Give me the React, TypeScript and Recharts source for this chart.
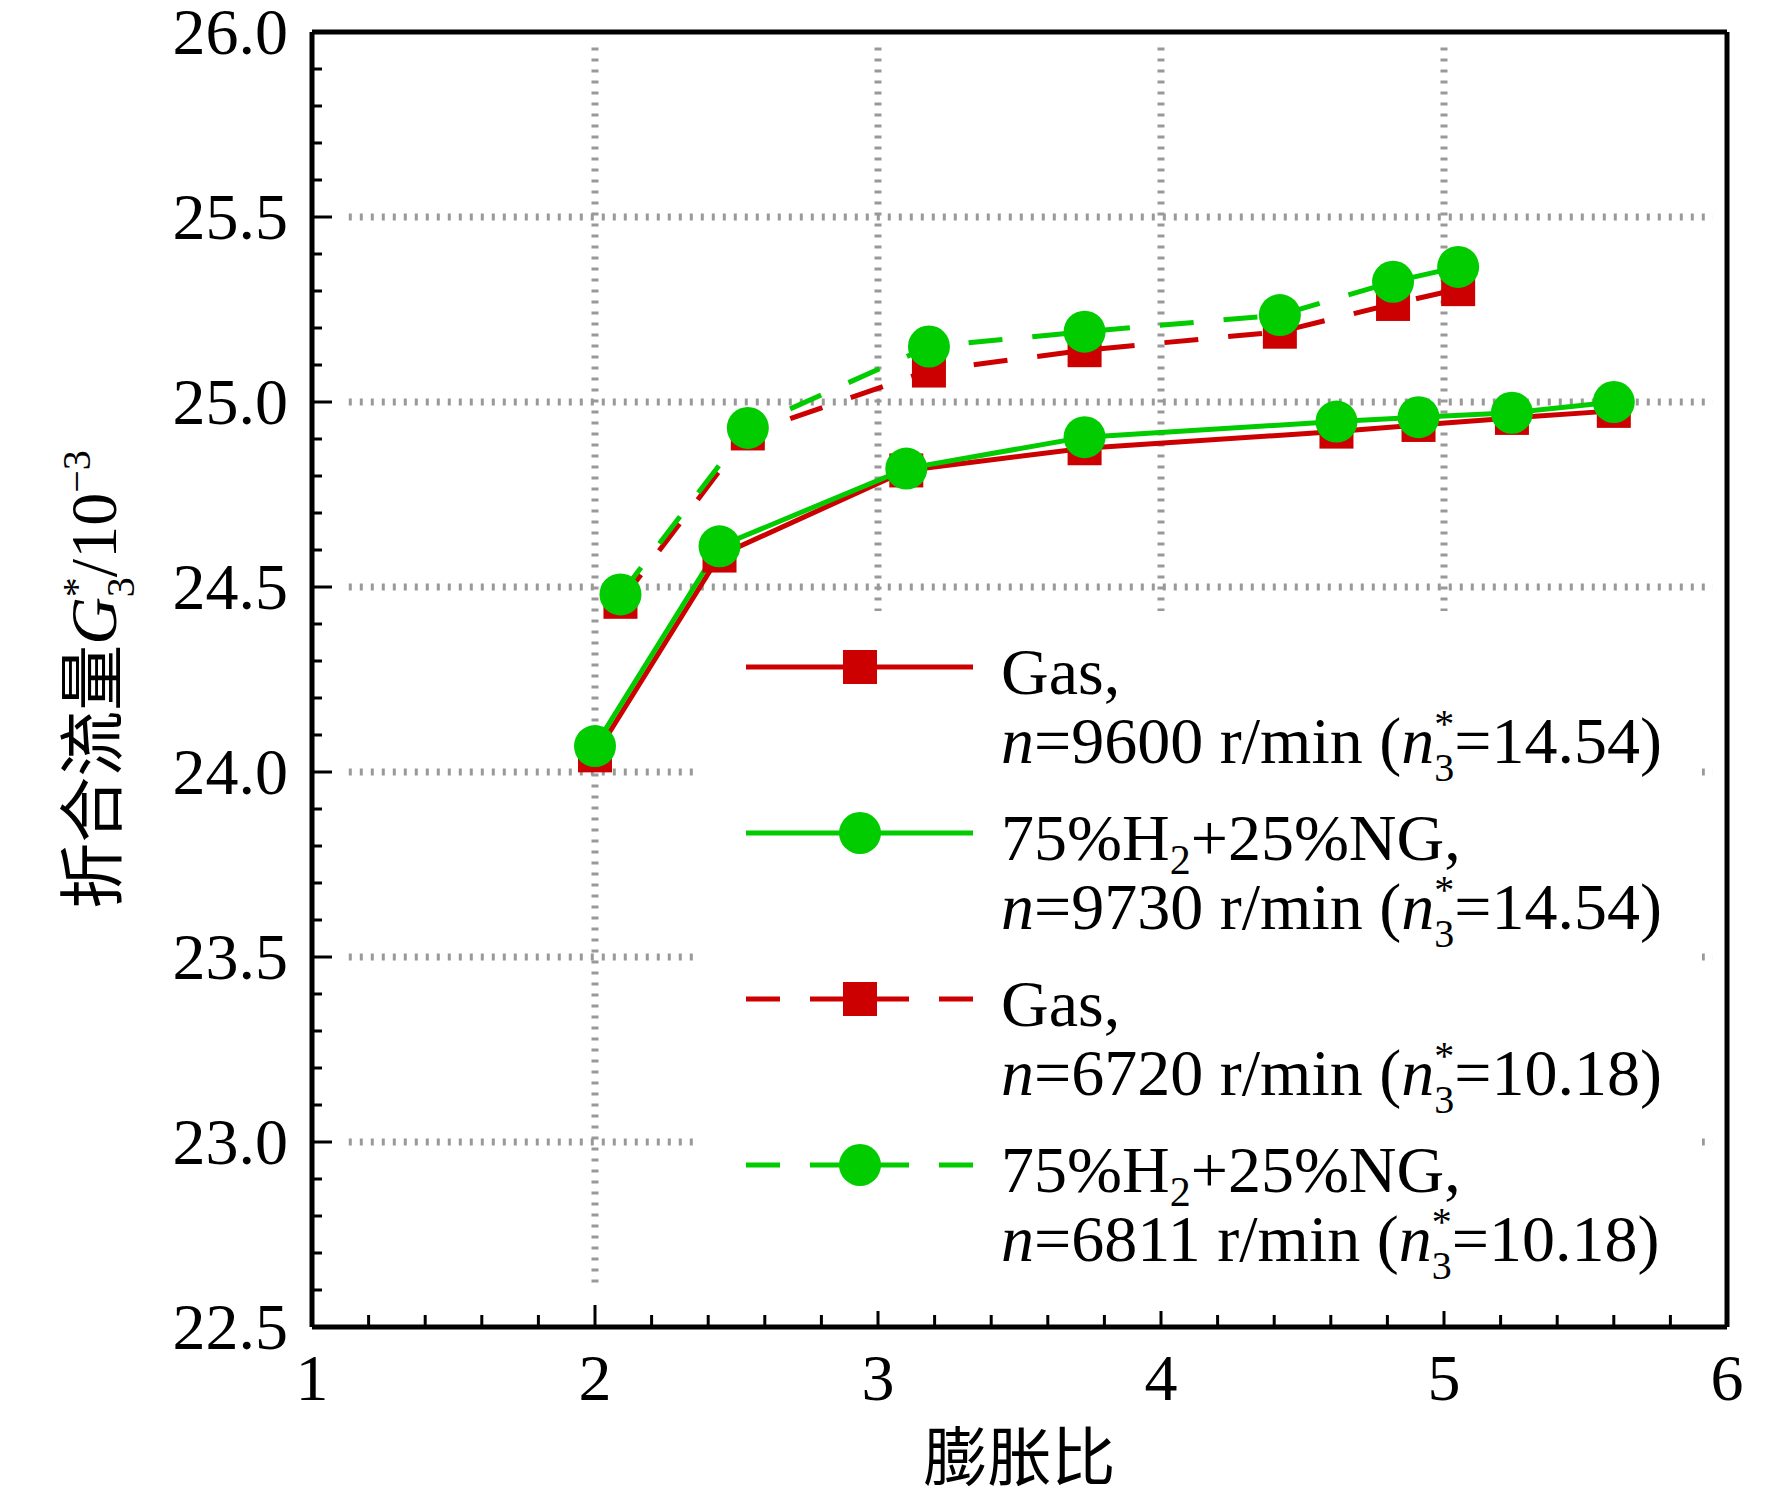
import React from 'react';
import { LineChart, Line, XAxis, YAxis, ReferenceLine, Legend } from 'recharts';

const W = 1772;
const H = 1493;
const RED = '#cc0000';
const GREEN = '#00cc00';
const FONT = "'Liberation Serif', 'Times New Roman', 'Noto Sans CJK SC', serif";

// high speed: n*3 = 14.54
const xHigh = [2.0, 2.44, 3.1, 3.73, 4.62, 4.91, 5.24, 5.6];
const gas9600 = [24.045, 24.585, 24.815, 24.875, 24.92, 24.938, 24.957, 24.976];
const h2_9730 = [24.07, 24.61, 24.82, 24.905, 24.947, 24.959, 24.971, 25.0];

// low speed: n*3 = 10.18
const xLow = [2.09, 2.54, 3.18, 3.73, 4.42, 4.82, 5.05];
const gas6720 = [24.46, 24.915, 25.085, 25.14, 25.19, 25.265, 25.305];
const h2_6811 = [24.48, 24.93, 25.15, 25.19, 25.235, 25.325, 25.365];

const xTicks = [1, 1.2, 1.4, 1.6, 1.8, 2, 2.2, 2.4, 2.6, 2.8, 3, 3.2, 3.4, 3.6, 3.8, 4, 4.2, 4.4, 4.6, 4.8, 5, 5.2, 5.4, 5.6, 5.8, 6];
const yTicks = [
  22.5, 22.6, 22.7, 22.8, 22.9, 23.0, 23.1, 23.2, 23.3, 23.4, 23.5, 23.6, 23.7, 23.8, 23.9, 24.0, 24.1, 24.2,
  24.3, 24.4, 24.5, 24.6, 24.7, 24.8, 24.9, 25.0, 25.1, 25.2, 25.3, 25.4, 25.5, 25.6, 25.7, 25.8, 25.9, 26.0,
];
const gridX = [2, 3, 4, 5];
const gridY = [23.0, 23.5, 24.0, 24.5, 25.0, 25.5];

const highRows = xHigh.map((x, i) => ({ x, gas: gas9600[i], h2: h2_9730[i] }));
const lowRows = xLow.map((x, i) => ({ x, gas: gas6720[i], h2: h2_6811[i] }));

const PLOT = { left: 312, top: 32, right: 1727, bottom: 1327 };

const XTick = (p: any) => {
  const v = p.payload.value;
  const major = Number.isInteger(v);
  return (
    <g>
      <line x1={p.x} x2={p.x} y1={p.y} y2={p.y - (major ? 22 : 12)} stroke="#000" strokeWidth={3} />
      {major && (
        <text x={p.x} y={p.y + 73} textAnchor="middle" fontSize={66} fontFamily={FONT} fill="#000">
          {v}
        </text>
      )}
    </g>
  );
};

const YTick = (p: any) => {
  const v = p.payload.value;
  const major = Math.abs(v * 2 - Math.round(v * 2)) < 1e-6;
  return (
    <g>
      <line x1={p.x} x2={p.x + (major ? 20 : 10)} y1={p.y} y2={p.y} stroke="#000" strokeWidth={3} />
      {major && (
        <text x={p.x - 24} y={p.y + 22} textAnchor="end" fontSize={66} fontFamily={FONT} fill="#000">
          {v.toFixed(1)}
        </text>
      )}
    </g>
  );
};

const squareDot = (p: any) => (
  <rect key={`sq-${p.index}-${p.cx}`} x={p.cx - 17} y={p.cy - 17} width={34} height={34} fill={RED} />
);

const circleDot = { r: 21, fill: GREEN, stroke: 'none', strokeWidth: 0, strokeDasharray: '0' };

const YLabel = () => {
  const cx = 116;
  const cy = (PLOT.top + PLOT.bottom) / 2;
  return (
    <text x={cx} y={cy} transform={`rotate(-90 ${cx} ${cy})`} textAnchor="middle" fontSize={66} fontFamily={FONT} fill="#000">
      折合流量
      <tspan fontStyle="italic">G</tspan>
      <tspan fontSize={40} dy={-26}>*</tspan>
      <tspan fontSize={40} dx={-20} dy={44}>3</tspan>
      <tspan dy={-18}>/10</tspan>
      <tspan fontSize={40} dy={-26}>−3</tspan>
    </text>
  );
};

const XLabel = () => (
  <text x={(PLOT.left + PLOT.right) / 2} y={1480} textAnchor="middle" fontSize={64} fontFamily={FONT} fill="#000">
    膨胀比
  </text>
);

const legendItems = [
  { color: RED, dashed: false, square: true, gas: true, n: '9600', ns: '14.54' },
  { color: GREEN, dashed: false, square: false, gas: false, n: '9730', ns: '14.54' },
  { color: RED, dashed: true, square: true, gas: true, n: '6720', ns: '10.18' },
  { color: GREEN, dashed: true, square: false, gas: false, n: '6811', ns: '10.18' },
];

const LEG = { left: 696, top: 611, width: 1006, height: 700 };

const LegendBox = () => (
  <svg width={LEG.width} height={LEG.height} style={{ display: 'block' }}>
    <rect x={0} y={0} width={LEG.width} height={LEG.height} fill="#fff" />
    {legendItems.map((it, i) => {
      const ly = 56 + i * 166;
      const dash = it.dashed ? '34 30' : undefined;
      return (
        <g key={i}>
          <line x1={50} x2={164} y1={ly} y2={ly} stroke={it.color} strokeWidth={5} strokeDasharray={dash} />
          <line x1={277} x2={164} y1={ly} y2={ly} stroke={it.color} strokeWidth={5} strokeDasharray={dash} />
          {it.square ? (
            <rect x={147} y={ly - 17} width={34} height={34} fill={it.color} />
          ) : (
            <circle cx={164} cy={ly} r={21} fill={it.color} />
          )}
          <text x={305} y={ly + 27} fontSize={66} fontFamily={FONT} fill="#000">
            {it.gas ? (
              'Gas,'
            ) : (
              <>
                75%H<tspan fontSize={42} dy={14}>2</tspan>
                <tspan dy={-14}>+25%NG,</tspan>
              </>
            )}
          </text>
          <text x={305} y={ly + 96} fontSize={66} fontFamily={FONT} fill="#000">
            <tspan fontStyle="italic">n</tspan>={it.n} r/min (<tspan fontStyle="italic">n</tspan>
            <tspan fontSize={40} dy={-26}>*</tspan>
            <tspan fontSize={40} dx={-20} dy={44}>3</tspan>
            <tspan dy={-18}>={it.ns})</tspan>
          </text>
        </g>
      );
    })}
  </svg>
);

export default function App() {
  return (
    <div style={{ width: W, height: H, background: '#fff', overflow: 'hidden' }}>
      <style>{'html,body{margin:0;padding:0;overflow:hidden;background:#fff}'}</style>
      <LineChart width={W} height={H} margin={{ top: PLOT.top, right: W - PLOT.right, left: 0, bottom: 0 }}>
        <XAxis
          type="number"
          dataKey="x"
          domain={[1, 6]}
          ticks={xTicks}
          interval={0}
          allowDataOverflow
          height={H - PLOT.bottom}
          tickSize={0}
          tickMargin={0}
          tickLine={false}
          tick={XTick}
          axisLine={{ stroke: '#000', strokeWidth: 5 }}
          label={{ content: () => <XLabel /> }}
        />
        <YAxis
          type="number"
          domain={[22.5, 26]}
          ticks={yTicks}
          interval={0}
          allowDataOverflow
          width={PLOT.left}
          tickSize={0}
          tickMargin={0}
          tickLine={false}
          tick={YTick}
          axisLine={{ stroke: '#000', strokeWidth: 5 }}
          label={{ content: () => <YLabel /> }}
        />
        {gridX.map((v) => (
          <ReferenceLine
            key={`gx${v}`}
            segment={[{ x: v, y: 22.62 }, { x: v, y: 25.96 }]}
            stroke="#999"
            strokeWidth={7}
            strokeDasharray="3 8"
          />
        ))}
        {gridY.map((v) => (
          <ReferenceLine
            key={`gy${v}`}
            segment={[{ x: 1.13, y: v }, { x: 5.95, y: v }]}
            stroke="#999"
            strokeWidth={7}
            strokeDasharray="3 8"
          />
        ))}
        <ReferenceLine y={26} stroke="#000" strokeWidth={5} />
        <ReferenceLine x={6} stroke="#000" strokeWidth={5} />
        <Line data={highRows} dataKey="gas" stroke={RED} strokeWidth={5} dot={squareDot} isAnimationActive={false} />
        <Line data={highRows} dataKey="h2" stroke={GREEN} strokeWidth={5} dot={circleDot} isAnimationActive={false} />
        <Line data={lowRows} dataKey="gas" stroke={RED} strokeWidth={5} strokeDasharray="34 30" dot={squareDot} isAnimationActive={false} />
        <Line data={lowRows} dataKey="h2" stroke={GREEN} strokeWidth={5} strokeDasharray="34 30" dot={circleDot} isAnimationActive={false} />
        <Legend
          layout="vertical"
          align="center"
          verticalAlign="middle"
          content={() => <LegendBox />}
          wrapperStyle={{ left: LEG.left, top: LEG.top, width: LEG.width, height: LEG.height, bottom: 'auto', right: 'auto' }}
        />
      </LineChart>
    </div>
  );
}
